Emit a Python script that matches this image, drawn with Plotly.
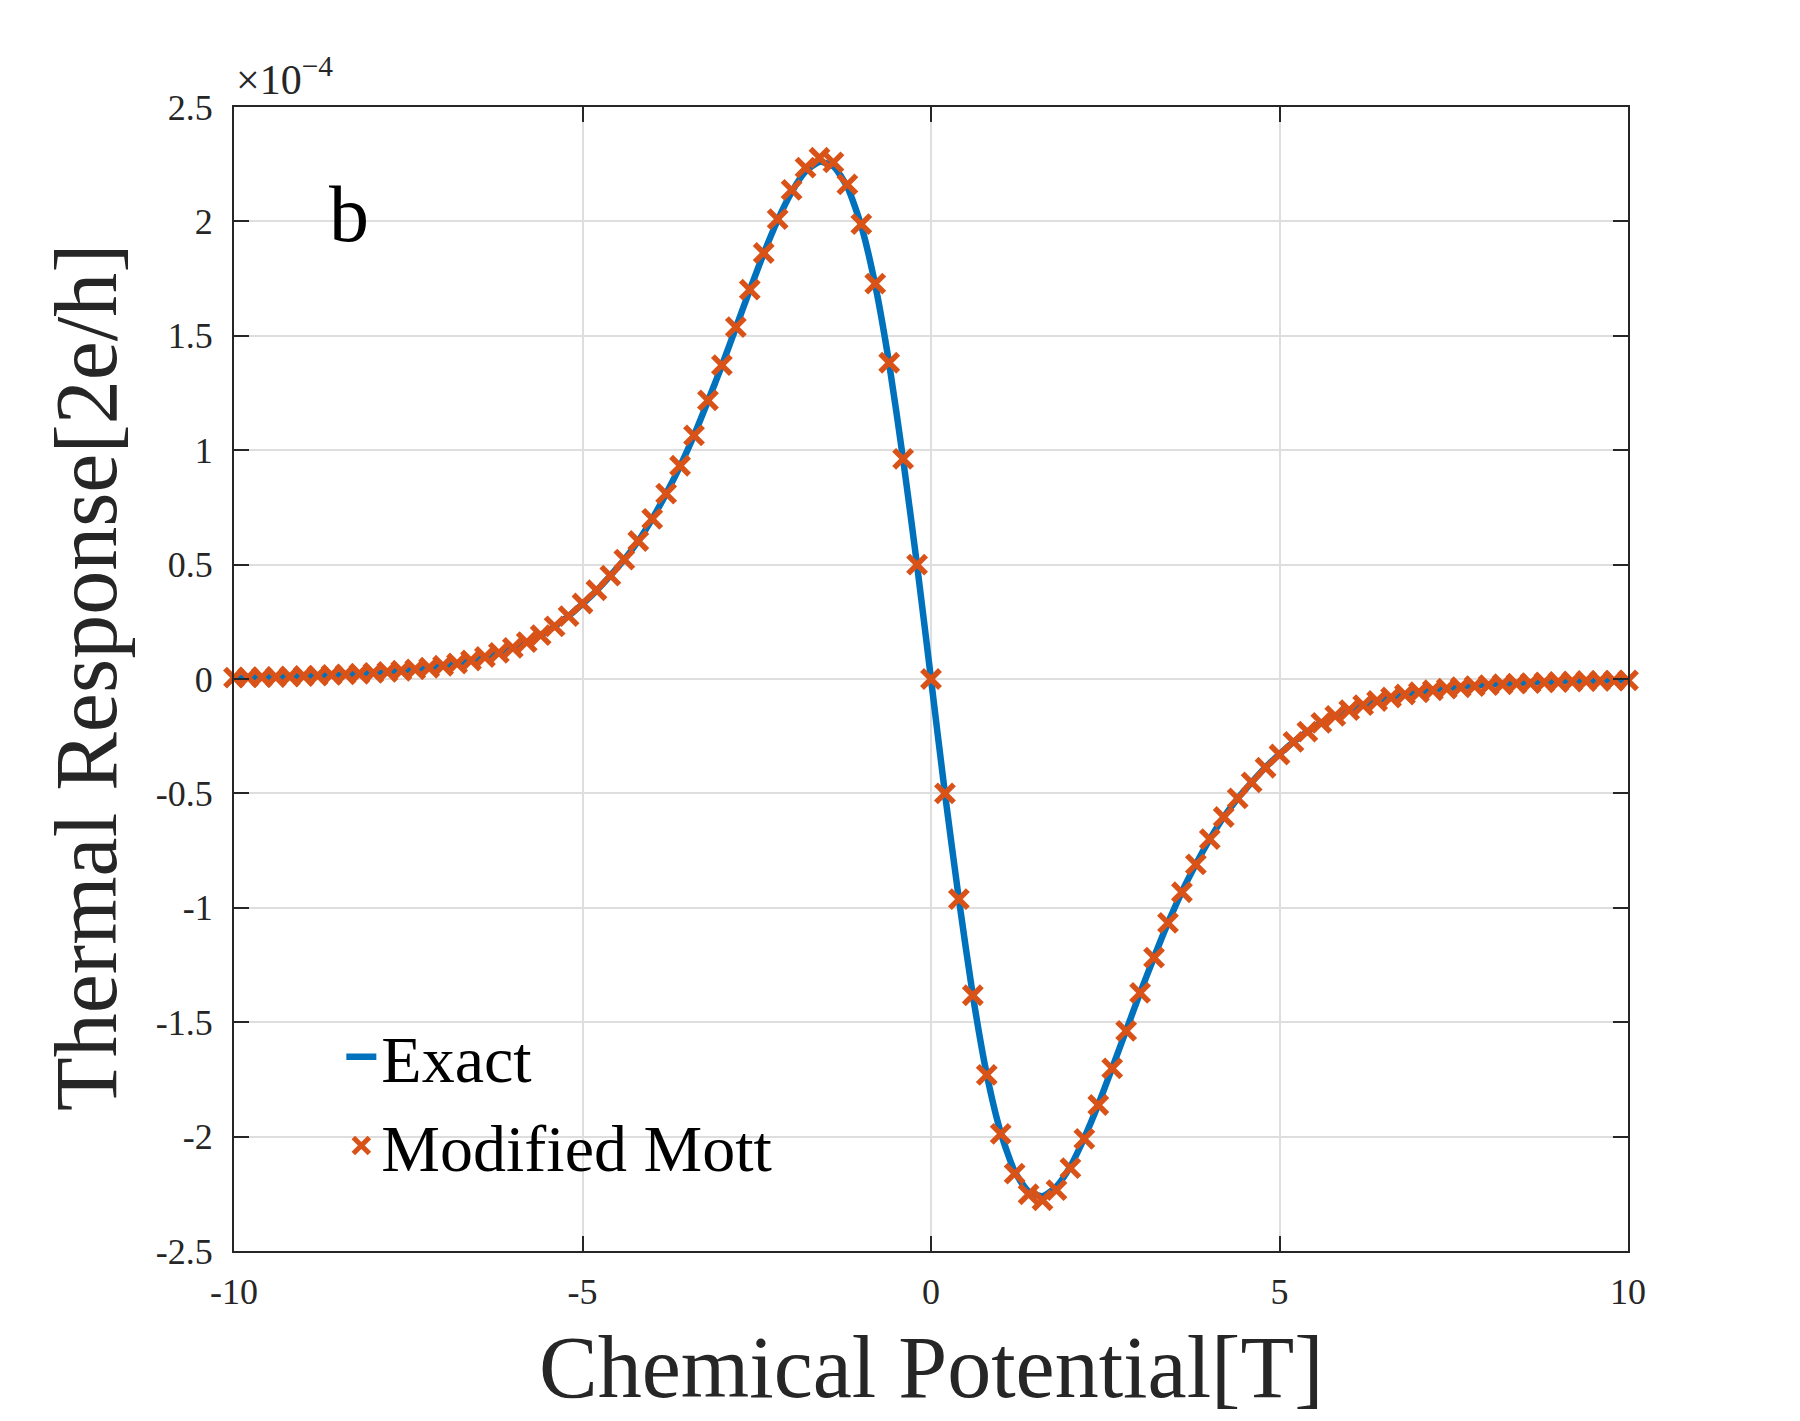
import plotly.graph_objects as go

# chemical potential grid [T]
mu = [-10.0, -9.8, -9.6, -9.4, -9.2, -9.0, -8.8, -8.6, -8.4, -8.2,
      -8.0, -7.8, -7.6, -7.4, -7.2, -7.0, -6.8, -6.6, -6.4, -6.2,
      -6.0, -5.8, -5.6, -5.4, -5.2, -5.0, -4.8, -4.6, -4.4, -4.2,
      -4.0, -3.8, -3.6, -3.4, -3.2, -3.0, -2.8, -2.6, -2.4, -2.2,
      -2.0, -1.8, -1.6, -1.4, -1.2, -1.0, -0.8, -0.6, -0.4, -0.2,
      0.0,
      0.2, 0.4, 0.6, 0.8, 1.0, 1.2, 1.4, 1.6, 1.8, 2.0,
      2.2, 2.4, 2.6, 2.8, 3.0, 3.2, 3.4, 3.6, 3.8, 4.0,
      4.2, 4.4, 4.6, 4.8, 5.0, 5.2, 5.4, 5.6, 5.8, 6.0,
      6.2, 6.4, 6.6, 6.8, 7.0, 7.2, 7.4, 7.6, 7.8, 8.0,
      8.2, 8.4, 8.6, 8.8, 9.0, 9.2, 9.4, 9.6, 9.8, 10.0]

# thermal response, in units of 1e-4 [2e/h]
exact = [0.006, 0.007, 0.008, 0.009, 0.011, 0.013, 0.015, 0.018, 0.020, 0.023,
         0.027, 0.031, 0.036, 0.042, 0.049, 0.058, 0.068, 0.081, 0.096, 0.114,
         0.136, 0.161, 0.192, 0.230, 0.275, 0.328, 0.386, 0.452, 0.522, 0.603,
         0.700, 0.810, 0.930, 1.065, 1.215, 1.370, 1.535, 1.700, 1.860, 2.005,
         2.128, 2.218, 2.260, 2.240, 2.150, 1.980, 1.722, 1.378, 0.960, 0.498,
         0.000,
         -0.500, -0.962, -1.382, -1.728, -1.982, -2.152, -2.240, -2.260, -2.218, -2.130,
         -2.005, -1.860, -1.700, -1.536, -1.372, -1.216, -1.066, -0.930, -0.810, -0.700,
         -0.603, -0.522, -0.452, -0.386, -0.328, -0.275, -0.230, -0.192, -0.160, -0.135,
         -0.113, -0.095, -0.080, -0.067, -0.056, -0.047, -0.040, -0.034, -0.029, -0.024,
         -0.021, -0.018, -0.015, -0.013, -0.011, -0.009, -0.008, -0.007, -0.006, -0.005]

mott = [0.006, 0.007, 0.008, 0.009, 0.011, 0.013, 0.015, 0.018, 0.020, 0.023,
        0.027, 0.031, 0.036, 0.042, 0.049, 0.058, 0.068, 0.081, 0.096, 0.114,
        0.136, 0.161, 0.192, 0.230, 0.275, 0.330, 0.388, 0.452, 0.522, 0.603,
        0.700, 0.810, 0.932, 1.065, 1.218, 1.372, 1.538, 1.702, 1.862, 2.010,
        2.138, 2.235, 2.278, 2.258, 2.162, 1.988, 1.728, 1.382, 0.962, 0.500,
        0.000,
        -0.500, -0.962, -1.382, -1.730, -1.988, -2.162, -2.252, -2.278, -2.234, -2.138,
        -2.010, -1.862, -1.702, -1.538, -1.372, -1.218, -1.066, -0.932, -0.810, -0.700,
        -0.603, -0.522, -0.452, -0.388, -0.330, -0.275, -0.230, -0.192, -0.161, -0.136,
        -0.114, -0.096, -0.081, -0.068, -0.058, -0.049, -0.042, -0.036, -0.031, -0.027,
        -0.023, -0.020, -0.018, -0.015, -0.013, -0.011, -0.009, -0.008, -0.007, -0.006]

scale = 1e-4
y_tickvals = [-2.5, -2.0, -1.5, -1.0, -0.5, 0.0, 0.5, 1.0, 1.5, 2.0, 2.5]
y_ticktext = ["-2.5", "-2", "-1.5", "-1", "-0.5", "0", "0.5", "1", "1.5", "2", "2.5"]
x_tickvals = [-10, -5, 0, 5, 10]
x_ticktext = ["-10", "-5", "0", "5", "10"]

FONT = "Liberation Serif"
INK = "#262626"
BLUE = "#0072BD"
ORANGE = "#D95319"

fig = go.Figure()
fig.add_trace(go.Scatter(
    x=mu, y=[v * scale for v in exact], mode="lines", name="Exact",
    line=dict(color=BLUE, width=6.5, shape="spline", smoothing=0.6),
))
fig.add_trace(go.Scatter(
    x=mu, y=[v * scale for v in mott], mode="markers", name="Modified Mott",
    marker=dict(symbol="x-thin-open", size=18, color=ORANGE,
                line=dict(color=ORANGE, width=5.5)),
    cliponaxis=False,
))

axis_common = dict(
    showline=True, linecolor=INK, linewidth=2, mirror="ticks",
    ticks="inside", ticklen=15, tickwidth=1.5, tickcolor=INK,
    showgrid=True, gridcolor="#dedede", gridwidth=1.5,
    zeroline=False,
    tickfont=dict(family=FONT, size=36, color=INK),
)

fig.update_layout(
    width=1800, height=1421,
    margin=dict(l=234, r=172, t=107, b=170),
    paper_bgcolor="white", plot_bgcolor="white",
    xaxis=dict(range=[-10, 10], tickvals=x_tickvals, ticktext=x_ticktext,
               ticklabelstandoff=8, **axis_common),
    yaxis=dict(range=[-2.5 * scale, 2.5 * scale],
               tickvals=[v * scale for v in y_tickvals], ticktext=y_ticktext,
               ticklabelstandoff=12, **axis_common),
    showlegend=True,
    legend=dict(x=0.077, y=0.213, xanchor="left", yanchor="top",
                bgcolor="rgba(0,0,0,0)", borderwidth=0,
                font=dict(family=FONT, size=66, color="black"),
                itemwidth=30, tracegroupgap=0),
    annotations=[
        dict(text="Chemical Potential[T]", xref="paper", yref="paper",
             x=0.5, y=-0.102, xanchor="center", yanchor="middle",
             showarrow=False, font=dict(family=FONT, size=88, color=INK)),
        dict(text="Thermal Response[2e/h]", xref="paper", yref="paper",
             x=-0.106, y=0.502, xanchor="center", yanchor="middle",
             textangle=-90, showarrow=False,
             font=dict(family=FONT, size=88, color=INK)),
        dict(text="×10<sup>−4</sup>", xref="paper", yref="paper",
             x=0.0, y=1.0, xanchor="left", yanchor="bottom", yshift=2,
             showarrow=False, font=dict(family=FONT, size=42, color=INK)),
        dict(text="b", xref="paper", yref="paper",
             x=(349 - 234) / 1394, y=(1251 - 214) / 1144,
             xanchor="center", yanchor="middle",
             showarrow=False, font=dict(family=FONT, size=80, color="black")),
    ],
)

fig.write_html("out.html")
